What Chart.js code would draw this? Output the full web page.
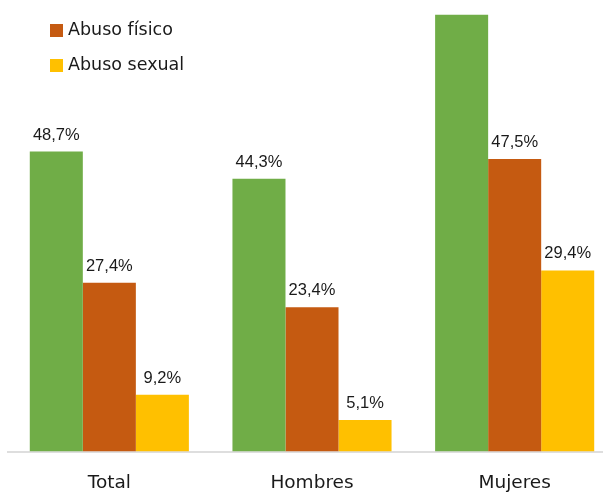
<!DOCTYPE html>
<html lang="es">
<head>
<meta charset="utf-8">
<script src="https://cdn.jsdelivr.net/npm/chart.js@4"></script>
<style>
  html, body { margin: 0; padding: 0; background: #fff; overflow: hidden; }
  #wrap { width: 603px; height: 493px; overflow: hidden; position: relative; }
  #box { position: absolute; left: 0; top: 0; width: 616px; height: 515px; }
</style>
</head>
<body>
<div id="wrap"><div id="box"><canvas id="chart"></canvas></div></div>
<script>
// Datos
const categorias = ["Total", "Hombres", "Mujeres"];
const abusoPsicologico = [48.7, 44.3, 70.9];
const abusoFisico = [27.4, 23.4, 47.5];
const abusoSexual = [9.2, 5.1, 29.4];
const series = ["Abuso psicológico", "Abuso físico", "Abuso sexual"];
const colores = ["#70AD47", "#C55A11", "#FFC000"];

// etiquetas de valor encima de cada barra
const valueLabels = {
  id: "valueLabels",
  afterDatasetsDraw(chart) {
    const ctx = chart.ctx;
    ctx.save();
    ctx.font = "16.5px 'Liberation Sans', Arial, sans-serif";
    ctx.fillStyle = "#1a1a1a";
    ctx.textAlign = "center";
    ctx.textBaseline = "alphabetic";
    chart.data.datasets.forEach((ds, i) => {
      chart.getDatasetMeta(i).data.forEach((bar, j) => {
        const y = bar.y - 12;
        if (y - 13 < 0) return; // no cabe en el lienzo
        ctx.fillText(ds.data[j].toFixed(1).replace(".", ",") + "%", bar.x, y);
      });
    });
    ctx.restore();
  }
};

// leyenda en columna, arriba a la izquierda
const leyenda = {
  id: "leyenda",
  afterDraw(chart) {
    const ctx = chart.ctx;
    ctx.save();
    ctx.font = "17.5px 'DejaVu Sans', sans-serif";
    ctx.textBaseline = "middle";
    ctx.textAlign = "left";
    chart.data.datasets.slice(1).forEach((ds, i) => {
      const cy = 30.5 + i * 35;
      ctx.fillStyle = ds.backgroundColor;
      ctx.fillRect(50, cy - 6.5, 13, 13);
      ctx.fillStyle = "#1a1a1a";
      ctx.fillText(ds.label, 68, cy);
    });
    ctx.restore();
  }
};

const datos = [abusoPsicologico, abusoFisico, abusoSexual];

new Chart(document.getElementById("chart"), {
  type: "bar",
  data: {
    labels: categorias,
    datasets: series.map((s, i) => ({
      label: s,
      data: datos[i],
      backgroundColor: colores[i],
      borderWidth: 0,
      categoryPercentage: 0.785,
      barPercentage: 1.0
    }))
  },
  options: {
    responsive: true,
    maintainAspectRatio: false,
    animation: false,
    layout: { padding: { left: 8, right: 0, top: 0, bottom: 0 } },
    plugins: {
      legend: { display: false },
      tooltip: { enabled: false }
    },
    scales: {
      x: {
        grid: { display: false, drawTicks: false },
        border: { display: true, color: "#dedede", width: 2 },
        ticks: {
          color: "#1a1a1a",
          padding: 22.5,
          font: { family: "'DejaVu Sans', sans-serif", size: 18.5, lineHeight: 1.0 }
        }
      },
      y: {
        display: false,
        min: 0,
        max: 73.3
      }
    }
  },
  plugins: [valueLabels, leyenda]
});
</script>
</body>
</html>
